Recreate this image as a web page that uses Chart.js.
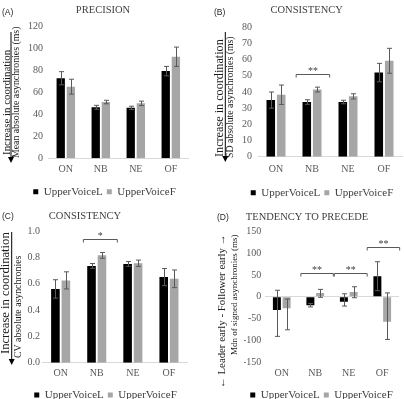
<!DOCTYPE html>
<html>
<head>
<meta charset="utf-8">
<script src="https://cdn.jsdelivr.net/npm/chart.js@4.4.0/dist/chart.umd.min.js"></script>
<style>
    html, body { margin: 0; padding: 0; background: #fff; width: 404px; height: 399px; overflow: hidden; }
    .panel { position: absolute; }
</style>
</head>
<body>
<div class="panel" style="left:0;top:0"><canvas id="chartA" width="202" height="210"></canvas></div>
<div class="panel" style="left:202px;top:0"><canvas id="chartB" width="202" height="210"></canvas></div>
<div class="panel" style="left:0;top:200px"><canvas id="chartC" width="202" height="215"></canvas></div>
<div class="panel" style="left:202px;top:200px"><canvas id="chartD" width="202" height="215"></canvas></div>
<script>
// --- DATA ---
const categories = ['ON', 'NB', 'NE', 'OF'];
const seriesNames = ['UpperVoiceL', 'UpperVoiceF'];

// (A) precision: mean absolute asynchronies (ms)
const precisionL = [73, 46.5, 46, 79.5];
const precisionLErr = [6, 1.8, 1.5, 4.3];
const precisionF = [65.3, 51.3, 50.1, 92.6];
const precisionFErr = [6.8, 1.6, 2, 8.8];
const precisionTicks = [0, 20, 40, 60, 80, 100, 120];

// (B) consistency: SD absolute asynchronies (ms)
const sdL = [35, 33.8, 33.8, 52];
const sdLErr = [5, 1.4, 1.1, 5.7];
const sdF = [38.3, 41.5, 37.3, 59.3];
const sdFErr = [6, 1.5, 1.6, 7.7];
const sdTicks = [0, 10, 20, 30, 40, 50, 60, 70, 80];

// (C) consistency: CV absolute asynchronies
const cvL = [0.56, 0.735, 0.75, 0.65];
const cvLErr = [0.07, 0.018, 0.018, 0.065];
const cvF = [0.625, 0.815, 0.755, 0.637];
const cvFErr = [0.065, 0.022, 0.024, 0.067];
const cvTicks = [0, 0.1, 0.2, 0.3, 0.4, 0.5, 0.6, 0.7, 0.8, 0.9, 1.0];

// (D) tendency to precede: median signed asynchronies (ms), whisker ends
const mdnL = [-30, -19, -11, 47];
const mdnLLow = [-90, -23, -21, 14];
const mdnLHigh = [15, -15, 7, 80];
const mdnF = [-26, 9, 11, -57];
const mdnFLow = [-75, -1, -2, -97];
const mdnFHigh = [-5, 17, 23, 9];
const mdnTicks = [-150, -100, -50, 0, 50, 100, 150];

// --- STYLE ---
const SERIF = "'Liberation Serif', 'Times New Roman', serif";
const SANS = "'Liberation Sans', Arial, sans-serif";
const COLOR_L = '#000000';
const COLOR_F = '#a6a6a6';
const WHISKER = '#595959';

const lowOf = (vals, errs) => vals.map((v, i) => v - errs[i]);
const highOf = (vals, errs) => vals.map((v, i) => v + errs[i]);

// error bars + brackets + text decorations
const decorPlugin = {
    id: 'decor',
    afterDatasetsDraw(chart, args, opts) {
        const ctx = chart.ctx;
        const x = chart.scales.x;
        const y = chart.scales.y;

        // whiskers
        ctx.save();
        ctx.strokeStyle = WHISKER;
        ctx.lineWidth = 1;
        chart.data.datasets.forEach((ds, di) => {
            const meta = chart.getDatasetMeta(di);
            meta.data.forEach((bar, i) => {
                const px = Math.round(bar.x) + 0.5;
                const y1 = y.getPixelForValue(ds.lo[i]);
                const y2 = y.getPixelForValue(ds.hi[i]);
                ctx.beginPath();
                ctx.moveTo(px, y1); ctx.lineTo(px, y2);
                ctx.moveTo(px - 2.5, y1); ctx.lineTo(px + 2.5, y1);
                ctx.moveTo(px - 2.5, y2); ctx.lineTo(px + 2.5, y2);
                ctx.stroke();
            });
        });

        // significance brackets
        (opts.brackets || []).forEach(b => {
            const x1 = x.getPixelForValue(b.from);
            const x2 = x.getPixelForValue(b.to);
            const py = Math.round(y.getPixelForValue(b.value)) + 0.5;
            ctx.beginPath();
            ctx.moveTo(x1, py + 3); ctx.lineTo(x1, py); ctx.lineTo(x2, py); ctx.lineTo(x2, py + 3);
            ctx.stroke();
            ctx.fillStyle = '#404040';
            ctx.font = '10px ' + SERIF;
            ctx.textAlign = 'center';
            ctx.textBaseline = 'middle';
            ctx.fillText(b.label, (x1 + x2) / 2, py - 3.5);
        });
        ctx.restore();

        // panel letter and title
        ctx.save();
        ctx.textBaseline = 'middle';
        ctx.fillStyle = '#262626';
        ctx.font = '8.5px ' + SANS;
        ctx.textAlign = 'left';
        ctx.fillText(opts.letter, opts.letterX, opts.letterY);
        ctx.fillStyle = '#404040';
        ctx.font = '10.5px ' + SERIF;
        ctx.textAlign = 'center';
        ctx.fillText(opts.title, opts.titleX, opts.titleY);

        // rotated axis title lines
        ctx.fillStyle = '#1a1a1a';
        opts.lines.forEach(l => {
            ctx.save();
            ctx.translate(l.x, l.y);
            ctx.rotate(-Math.PI / 2);
            ctx.font = l.size + 'px ' + SERIF;
            ctx.textAlign = 'left';
            ctx.textBaseline = 'middle';
            ctx.fillText(l.text, 0, 0);
            ctx.restore();
        });

        // downward arrow
        if (opts.arrow) {
            const a = opts.arrow;
            ctx.strokeStyle = '#000';
            ctx.lineWidth = 1;
            ctx.beginPath();
            ctx.moveTo(a.x, a.y1); ctx.lineTo(a.x, a.y2 - 4);
            ctx.stroke();
            ctx.fillStyle = '#000';
            ctx.beginPath();
            ctx.moveTo(a.x - 3, a.y2 - 6); ctx.lineTo(a.x + 3, a.y2 - 6); ctx.lineTo(a.x, a.y2);
            ctx.closePath();
            ctx.fill();
        }
        ctx.restore();
    }
};

function makePanel(id, p) {
    const ctx = document.getElementById(id).getContext('2d');
    return new Chart(ctx, {
        type: 'bar',
        data: {
            labels: categories,
            datasets: [
                { label: seriesNames[0], data: p.l, lo: p.lLo, hi: p.lHi, backgroundColor: COLOR_L, borderWidth: 0 },
                { label: seriesNames[1], data: p.f, lo: p.fLo, hi: p.fHi, backgroundColor: COLOR_F, borderWidth: 0 }
            ]
        },
        options: {
            responsive: false,
            animation: false,
            events: [],
            categoryPercentage: 0.58,
            barPercentage: 0.82,
            layout: { padding: p.pad },
            scales: {
                x: {
                    grid: { display: false, drawTicks: false },
                    border: { display: p.xBorder, color: '#d9d9d9' },
                    ticks: { color: '#595959', padding: p.xPad, font: { family: SERIF, size: 10 } },
                    afterFit: s => { s.height = p.xHeight; }
                },
                y: {
                    min: p.ticks[0],
                    max: p.ticks[p.ticks.length - 1],
                    grid: {
                        display: p.zeroLine,
                        drawTicks: false,
                        color: c => (c.tick && c.tick.value === 0 ? '#d9d9d9' : 'rgba(0,0,0,0)')
                    },
                    border: { display: false },
                    ticks: {
                        color: '#595959',
                        padding: p.yPad,
                        font: { family: SERIF, size: 10 },
                        callback: p.fmt
                    },
                    afterBuildTicks: s => { s.ticks = p.ticks.map(v => ({ value: v })); },
                    afterFit: s => { s.width = p.yWidth; }
                }
            },
            plugins: {
                tooltip: { enabled: false },
                legend: {
                    position: 'bottom',
                    labels: { boxWidth: 5, boxHeight: 5, padding: 4, color: '#404040', font: { family: SERIF, size: 11 } }
                },
                decor: p.decor
            }
        },
        plugins: [decorPlugin]
    });
}

makePanel('chartA', {
    l: precisionL, lLo: lowOf(precisionL, precisionLErr), lHi: highOf(precisionL, precisionLErr),
    f: precisionF, fLo: lowOf(precisionF, precisionFErr), fHi: highOf(precisionF, precisionFErr),
    ticks: precisionTicks, fmt: v => String(v),
    pad: { left: 20.7, right: 13.7, top: 26.7, bottom: 2.8 },
    yWidth: 27.6, yPad: 5.3, xHeight: 23.9, xPad: 4.7, xBorder: true, zeroLine: false,
    decor: {
        letter: '(A)', letterX: 2, letterY: 12.5, title: 'PRECISION', titleX: 103, titleY: 10.7,
        lines: [
            { text: 'Increase in coordination', x: 6.7, y: 155, size: 10.9 },
            { text: 'Mean absolute asynchronies (ms)', x: 16.3, y: 158, size: 9.8 }
        ],
        arrow: { x: 11, y1: 32, y2: 163 },
        brackets: []
    }
});

makePanel('chartB', {
    l: sdL, lLo: lowOf(sdL, sdLErr), lHi: highOf(sdL, sdLErr),
    f: sdF, fLo: lowOf(sdF, sdFErr), fHi: highOf(sdF, sdFErr),
    ticks: sdTicks, fmt: v => String(v),
    pad: { left: 40, right: 2, top: 27.3, bottom: 1.8 },
    yWidth: 16, yPad: 6, xHeight: 26.5, xPad: 6.6, xBorder: true, zeroLine: false,
    decor: {
        letter: '(B)', letterX: 12, letterY: 12.5, title: 'CONSISTENCY', titleX: 104.7, titleY: 10.7,
        lines: [
            { text: 'Increase in coordination', x: 18.3, y: 157, size: 12.2 },
            { text: 'SD absolute asynchronies (ms)', x: 28.8, y: 158, size: 9.8 }
        ],
        arrow: { x: 23.3, y1: 32, y2: 162 },
        brackets: [{ from: 1 - 0.44, to: 1 + 0.49, value: 51, label: '**' }]
    }
});

makePanel('chartC', {
    l: cvL, lLo: lowOf(cvL, cvLErr), lHi: highOf(cvL, cvLErr),
    f: cvF, fLo: lowOf(cvF, cvFErr), fHi: highOf(cvF, cvFErr),
    ticks: cvTicks, fmt: v => v.toFixed(1),
    pad: { left: 24, right: 15, top: 31, bottom: 4.5 },
    yWidth: 18.6, yPad: 2.6, xHeight: 22.8, xPad: 4.3, xBorder: true, zeroLine: false,
    decor: {
        letter: '(C)', letterX: 2, letterY: 17, title: 'CONSISTENCY', titleX: 85, titleY: 16.7,
        lines: [
            { text: 'Increase in coordination', x: 5.3, y: 154, size: 12.6 },
            { text: 'CV absolute asynchronies', x: 18.3, y: 158, size: 9.8 }
        ],
        arrow: { x: 11.7, y1: 32, y2: 165 },
        brackets: [{ from: 1 - 0.37, to: 1 + 0.57, value: 0.94, label: '*' }]
    }
});

makePanel('chartD', {
    l: mdnL, lLo: mdnLLow, lHi: mdnLHigh,
    f: mdnF, fLo: mdnFLow, fHi: mdnFHigh,
    ticks: mdnTicks, fmt: v => String(v),
    pad: { left: 42, right: 5, top: 31, bottom: 4.5 },
    yWidth: 21, yPad: 3.7, xHeight: 22.8, xPad: 4.3, xBorder: false, zeroLine: true,
    decor: {
        letter: '(D)', letterX: 15, letterY: 17.3, title: 'TENDENCY TO PRECEDE', titleX: 105, titleY: 17.3,
        lines: [
            { text: '\u2190 Leader early - Follower early \u2192', x: 20.5, y: 188, size: 10.8 },
            { text: 'Mdn of signed asynchronies (ms)', x: 32.5, y: 155, size: 9 }
        ],
        arrow: null,
        brackets: [
            { from: 1 - 0.43, to: 1 + 0.54, value: 54, label: '**' },
            { from: 2 - 0.43, to: 2 + 0.55, value: 54, label: '**' },
            { from: 3 - 0.45, to: 3 + 0.52, value: 113, label: '**' }
        ]
    }
});
</script>
</body>
</html>
